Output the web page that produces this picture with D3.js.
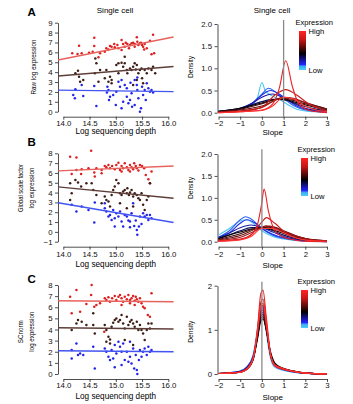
<!DOCTYPE html>
<html>
<head>
<meta charset="utf-8">
<script src="https://cdn.jsdelivr.net/npm/d3@7"></script>
<style>
  body { margin: 0; background: #fff; }
  svg { display: block; font-family: "Liberation Sans", Arial, sans-serif; }
</style>
</head>
<body>
<svg id="chart"></svg>
<script>
// three genes (high / mid / low expression) measured in single cells, three normalisations

const depthTicks = [14.0, 14.5, 15.0, 15.5, 16.0];
const slopeTicks = [-2, -1, 0, 1, 2, 3];
const fitDepths = [13.9, 16.1];

// Raw log expression: [log depth, log expression]
const rawHigh = [[14.59,7.48],[14.30,6.68],[14.59,6.64],[14.17,5.90],[14.27,5.83],[14.35,5.90],[14.49,5.97],[14.56,6.07],[14.70,5.90],[14.67,5.50],[14.79,6.07],[14.82,6.41],[14.86,6.30],[14.89,6.64],[14.97,6.84],[15.03,6.74],[15.05,6.41],[15.11,7.25],[15.14,6.84],[15.17,6.57],[15.19,6.98],[15.22,6.84],[15.27,6.74],[15.30,6.91],[15.33,6.98],[15.36,6.84],[15.40,7.52],[15.41,7.08],[15.43,6.74],[15.46,6.91],[15.48,6.98],[15.50,6.74],[15.52,6.57],[15.54,6.30],[15.55,6.84],[15.59,6.41],[15.65,7.18],[15.68,5.80],[15.71,7.79],[15.73,5.90],[15.11,6.24],[15.25,6.41],[15.36,6.57],[14.98,6.51],[14.92,6.57]];
const rawMid = [[14.23,3.88],[14.28,4.15],[14.32,3.04],[14.30,3.54],[14.38,3.20],[14.60,3.88],[14.63,4.89],[14.61,5.39],[14.67,3.04],[14.70,4.21],[14.82,4.21],[14.86,3.04],[14.89,3.54],[14.92,3.20],[14.79,3.37],[15.01,4.72],[15.05,4.89],[15.05,3.88],[15.11,4.96],[15.14,4.55],[15.17,5.56],[15.17,4.89],[15.21,4.21],[15.22,3.88],[15.27,4.38],[15.30,4.21],[15.33,4.55],[15.33,2.70],[15.36,4.89],[15.38,4.28],[15.40,4.72],[15.40,3.20],[15.43,3.88],[15.46,4.21],[15.49,4.38],[15.50,3.37],[15.52,2.87],[15.55,4.21],[15.59,3.88],[15.62,4.38],[15.68,4.21],[15.71,4.55],[15.75,3.88],[14.92,2.87]];
const rawLow = [[14.23,2.26],[14.35,2.70],[14.59,2.60],[14.19,1.69],[14.22,1.35],[14.38,1.59],[14.63,0.58],[14.84,2.53],[14.86,2.19],[14.89,1.52],[14.87,1.18],[14.95,1.69],[15.01,2.02],[15.05,3.04],[15.08,2.53],[15.11,3.20],[15.17,2.70],[15.21,2.36],[15.21,1.52],[15.24,0.85],[15.27,1.18],[15.30,1.86],[15.31,0.51],[15.36,3.20],[15.40,2.70],[15.41,2.19],[15.43,1.35],[15.46,0.00],[15.48,0.34],[15.50,2.53],[15.52,1.69],[15.55,2.19],[15.57,1.18],[15.59,2.87],[15.62,2.36],[15.65,2.02],[15.68,2.19],[15.71,1.93],[15.14,1.01],[15.00,0.68],[15.11,0.34],[15.36,0.68],[15.41,3.47],[15.28,2.94],[14.83,1.93]];
// fitted line values at fitDepths, order high / mid / low
const rawFits = [[5.23,7.55],[3.61,4.57],[2.18,2.03]];

// Global scale factor log expression
const scaleHigh = [[14.13,7.66],[14.25,7.56],[14.53,8.27],[14.16,5.90],[14.25,6.31],[14.34,5.90],[14.35,6.37],[14.48,6.48],[14.59,6.04],[14.63,6.48],[14.73,6.31],[14.79,6.71],[14.82,6.58],[14.86,6.81],[14.89,6.48],[14.93,6.71],[14.98,6.37],[15.01,6.81],[15.05,7.05],[15.08,6.31],[15.11,6.71],[15.14,6.48],[15.17,6.98],[15.21,6.58],[15.24,6.31],[15.27,6.81],[15.30,6.58],[15.33,6.37],[15.35,6.98],[15.38,6.71],[15.40,6.48],[15.43,6.24],[15.46,6.81],[15.50,6.71],[15.54,6.48],[15.57,5.80],[15.62,5.36],[15.65,4.95],[15.68,6.14],[15.11,6.14],[15.27,6.14],[14.73,5.97],[14.60,5.63]];
const scaleMid = [[14.13,4.95],[14.16,3.93],[14.23,5.29],[14.28,5.02],[14.34,4.61],[14.44,4.95],[14.54,4.95],[14.57,4.27],[14.63,3.76],[14.13,3.25],[14.73,2.92],[14.79,3.59],[14.82,3.25],[14.86,3.09],[14.89,2.58],[14.92,3.76],[14.95,4.27],[14.98,4.61],[15.01,5.29],[15.05,4.95],[15.08,3.93],[15.11,3.76],[15.14,4.10],[15.17,4.27],[15.21,3.93],[15.22,4.44],[15.25,3.76],[15.27,4.00],[15.30,4.27],[15.33,3.59],[15.36,3.93],[15.40,3.76],[15.43,3.42],[15.46,3.25],[15.49,3.93],[15.52,2.75],[15.55,2.24],[15.59,3.25],[15.62,3.59],[15.65,4.95],[15.08,2.92],[15.21,2.41],[15.33,2.58]];
const scaleLow = [[14.16,2.75],[14.25,2.07],[14.35,2.58],[14.48,2.24],[14.59,0.95],[14.79,2.41],[14.82,2.07],[14.86,1.56],[14.89,1.73],[14.92,1.22],[14.95,2.24],[14.98,1.39],[15.01,1.90],[15.05,1.56],[15.08,2.07],[15.11,1.05],[15.14,0.54],[15.17,1.73],[15.21,1.56],[15.24,1.15],[15.27,0.47],[15.30,1.90],[15.33,2.92],[15.35,0.61],[15.38,1.15],[15.40,0.20],[15.41,-0.30],[15.44,0.54],[15.46,1.56],[15.49,0.81],[15.52,1.90],[15.55,1.56],[15.59,1.73],[15.62,1.22],[15.65,1.73],[15.68,1.39],[14.79,2.92],[14.60,2.98],[14.98,0.54],[15.27,1.05]];
const scaleFits = [[6.21,6.71],[4.58,3.42],[2.97,0.95]];

// SCnorm log expression
const scnormHigh = [[14.13,6.95],[14.25,7.55],[14.54,8.00],[14.53,7.10],[14.16,5.45],[14.32,5.60],[14.44,6.29],[14.59,6.05],[14.63,6.20],[14.70,6.35],[14.79,6.80],[14.82,6.65],[14.86,6.89],[14.89,6.50],[14.93,6.80],[14.98,7.01],[15.01,6.65],[15.05,6.95],[15.08,7.10],[15.11,6.80],[15.14,6.50],[15.17,6.95],[15.21,6.71],[15.24,7.10],[15.27,6.65],[15.30,6.80],[15.33,7.01],[15.36,6.59],[15.38,6.95],[15.40,6.71],[15.43,6.50],[15.46,6.80],[15.49,6.35],[15.52,6.05],[15.55,5.90],[15.61,5.30],[15.65,5.15],[15.68,7.25],[15.36,6.20],[15.11,6.20],[15.27,6.35],[14.78,3.80]];
const scnormMid = [[14.16,3.95],[14.25,4.55],[14.28,4.85],[14.35,4.70],[14.44,4.40],[14.57,4.40],[14.60,3.65],[14.57,5.45],[14.79,4.40],[14.82,3.95],[14.86,3.35],[14.89,3.11],[14.92,4.25],[14.95,4.61],[14.98,4.85],[15.01,5.00],[15.05,4.70],[15.08,4.85],[15.11,5.30],[15.14,4.55],[15.17,4.10],[15.21,5.15],[15.24,4.40],[15.27,4.70],[15.30,4.85],[15.33,4.55],[15.36,4.25],[15.40,4.70],[15.43,3.95],[15.46,4.40],[15.49,3.95],[15.52,3.65],[15.55,3.05],[15.59,3.95],[15.62,4.55],[15.65,4.10],[15.68,4.55],[14.82,2.90],[14.89,2.75],[15.17,3.05],[15.33,2.60]];
const scnormLow = [[14.16,2.15],[14.25,2.75],[14.28,1.70],[14.32,1.85],[14.16,1.40],[14.38,1.70],[14.57,2.45],[14.60,0.50],[14.79,2.30],[14.82,2.00],[14.86,1.55],[14.89,1.25],[14.92,2.15],[14.95,1.40],[14.98,2.60],[15.01,1.85],[15.05,2.90],[15.08,2.45],[15.11,2.00],[15.14,2.75],[15.17,1.25],[15.21,2.00],[15.24,1.10],[15.27,1.55],[15.30,0.95],[15.33,2.30],[15.35,0.50],[15.38,1.70],[15.40,0.35],[15.41,0.00],[15.44,1.25],[15.46,2.15],[15.49,1.55],[15.52,2.00],[15.55,2.30],[15.59,1.70],[15.62,2.45],[15.65,2.00],[15.68,2.15],[15.11,0.80],[14.98,0.60],[15.27,2.90]];
const scnormFits = [[6.59,6.50],[4.16,4.04],[2.09,2.00]];

// slope density curves, low -> high expression: [slope, density]
const curveColors = ["#48c8f4", "#3060f4", "#2030e4", "#1c1ca8", "#10105a", "#000000",
                     "#3c0a0a", "#6a1010", "#9a1616", "#c81c1c", "#ee1f1f", "#ff3434"];

const rawCurves = [
  [[-2,0.03],[-1.5,0.06],[-1,0.1],[-0.5,0.17],[-0.2,0.35],[0,0.68],[0.15,0.5],[0.4,0.4],[0.8,0.3],[1.2,0.18],[1.6,0.08],[2,0.04],[2.5,0.02],[3,0.01]],
  [[-2,0.02],[-1,0.08],[-0.5,0.18],[0,0.42],[0.3,0.55],[0.6,0.48],[1,0.32],[1.5,0.15],[2,0.06],[2.5,0.03],[3,0.01]],
  [[-2,0.02],[-1,0.09],[-0.5,0.2],[0,0.4],[0.4,0.5],[0.8,0.42],[1.2,0.28],[1.6,0.15],[2,0.08],[3,0.02]],
  [[-2,0.03],[-1,0.1],[-0.5,0.2],[0,0.35],[0.5,0.42],[1,0.33],[1.5,0.2],[2,0.1],[2.5,0.05],[3,0.02]],
  [[-2,0.03],[-1,0.1],[0,0.25],[0.5,0.3],[1,0.3],[1.5,0.22],[2,0.14],[2.5,0.08],[3,0.04]],
  [[-2,0.03],[-1,0.1],[0,0.22],[0.7,0.3],[1.2,0.28],[1.8,0.2],[2.3,0.14],[3,0.07]],
  [[-2,0.02],[-1,0.08],[0,0.2],[0.8,0.31],[1.4,0.28],[2,0.2],[2.5,0.15],[3,0.08]],
  [[-2,0.02],[-1,0.06],[0,0.15],[1,0.33],[1.6,0.28],[2.2,0.2],[3,0.08]],
  [[-2,0.01],[-1,0.04],[0,0.12],[1,0.35],[1.5,0.32],[2,0.22],[2.5,0.12],[3,0.05]],
  [[-2,0.01],[-1,0.03],[0,0.12],[0.6,0.4],[1.1,0.52],[1.6,0.4],[2.1,0.22],[2.6,0.1],[3,0.04]],
  [[-2,0],[-1,0.02],[0,0.06],[0.5,0.2],[0.8,0.55],[1.1,1.17],[1.4,0.6],[1.7,0.2],[2.2,0.05],[3,0]],
  [[-2,0],[-1,0.02],[0,0.05],[0.5,0.15],[1,0.35],[1.5,0.3],[2,0.15],[2.5,0.06],[3,0.02]]
];

const scaleCurves = [
  [[-2,0.15],[-1.5,0.3],[-1,0.47],[-0.7,0.5],[-0.4,0.42],[0,0.25],[0.5,0.12],[1,0.06],[1.5,0.03],[2,0.01],[3,0]],
  [[-2,0.1],[-1.5,0.25],[-1,0.5],[-0.75,0.57],[-0.5,0.52],[0,0.3],[0.5,0.15],[1,0.08],[1.5,0.04],[2,0.02],[3,0]],
  [[-2,0.08],[-1.5,0.2],[-1,0.42],[-0.7,0.5],[-0.3,0.42],[0,0.3],[0.5,0.17],[1,0.09],[1.5,0.05],[2,0.02],[3,0.01]],
  [[-2,0.1],[-1.5,0.2],[-1,0.32],[-0.5,0.38],[0,0.32],[0.5,0.22],[1,0.12],[1.5,0.06],[2,0.03],[3,0.01]],
  [[-2,0.08],[-1.5,0.16],[-1,0.25],[-0.5,0.32],[0,0.32],[0.5,0.25],[1,0.15],[1.5,0.08],[2,0.04],[3,0.01]],
  [[-2,0.07],[-1,0.22],[-0.3,0.3],[0.2,0.3],[0.8,0.22],[1.4,0.12],[2,0.06],[3,0.01]],
  [[-2,0.05],[-1,0.18],[-0.3,0.3],[0.3,0.33],[1,0.22],[1.5,0.13],[2,0.07],[3,0.02]],
  [[-2,0.04],[-1,0.14],[-0.2,0.3],[0.4,0.35],[1,0.25],[1.6,0.13],[2.2,0.05],[3,0.01]],
  [[-2,0.03],[-1,0.1],[-0.3,0.25],[0.2,0.36],[0.8,0.28],[1.5,0.14],[2,0.07],[3,0.02]],
  [[-2,0.02],[-1,0.06],[-0.4,0.2],[0,0.45],[0.2,0.55],[0.6,0.42],[1.1,0.2],[1.6,0.08],[2.2,0.03],[3,0]],
  [[-2,0.01],[-1,0.05],[-0.5,0.15],[-0.2,0.4],[0,0.9],[0.1,1.2],[0.3,0.7],[0.6,0.25],[1,0.1],[1.5,0.04],[2,0.01],[3,0]],
  [[-2,0.01],[-1,0.04],[-0.5,0.12],[0,0.3],[0.5,0.3],[1,0.2],[1.5,0.1],[2,0.04],[3,0.01]]
];

const scnormCurves = [
  [[-2,0.01],[-1.5,0.02],[-1,0.06],[-0.7,0.15],[-0.4,0.45],[-0.2,1.05],[-0.05,1.6],[0.05,1.6],[0.2,0.95],[0.4,0.35],[0.6,0.15],[1,0.08],[1.5,0.04],[2,0.01],[3,0]],
  [[-2,0.01],[-1.5,0.03],[-1,0.07],[-0.7,0.16],[-0.4,0.42],[-0.2,0.95],[-0.05,1.45],[0.05,1.55],[0.2,1.05],[0.4,0.4],[0.6,0.18],[1,0.09],[1.5,0.04],[2,0.02],[3,0]],
  [[-2,0.01],[-1.5,0.03],[-1,0.06],[-0.7,0.14],[-0.4,0.4],[-0.2,0.9],[-0.05,1.4],[0.05,1.5],[0.2,1.1],[0.4,0.45],[0.6,0.2],[1,0.1],[1.5,0.05],[2,0.02],[3,0]],
  [[-2,0.01],[-1.5,0.02],[-1,0.05],[-0.7,0.14],[-0.4,0.38],[-0.2,0.85],[-0.05,1.3],[0.05,1.4],[0.2,1.05],[0.4,0.42],[0.6,0.2],[1,0.11],[1.5,0.05],[2,0.02],[3,0]],
  [[-2,0.01],[-1.5,0.02],[-1,0.05],[-0.7,0.12],[-0.4,0.35],[-0.2,0.85],[-0.05,1.25],[0.05,1.3],[0.2,1.0],[0.4,0.45],[0.6,0.22],[1,0.12],[1.5,0.06],[2,0.02],[3,0]],
  [[-2,0.01],[-1.5,0.02],[-1,0.05],[-0.7,0.12],[-0.4,0.35],[-0.2,0.8],[-0.05,1.2],[0.05,1.25],[0.2,1.0],[0.4,0.5],[0.6,0.25],[1,0.12],[1.5,0.06],[2,0.02],[3,0]],
  [[-2,0.01],[-1.5,0.02],[-1,0.04],[-0.7,0.1],[-0.4,0.32],[-0.2,0.85],[-0.05,1.3],[0.05,1.35],[0.2,1.02],[0.4,0.42],[0.6,0.2],[1,0.12],[1.5,0.06],[2,0.02],[3,0]],
  [[-2,0.01],[-1.5,0.02],[-1,0.04],[-0.7,0.11],[-0.4,0.34],[-0.2,0.9],[-0.05,1.38],[0.05,1.45],[0.2,1.05],[0.4,0.45],[0.6,0.22],[1,0.13],[1.5,0.06],[2,0.03],[3,0]],
  [[-2,0.01],[-1.5,0.02],[-1,0.05],[-0.7,0.12],[-0.4,0.36],[-0.2,0.95],[-0.05,1.48],[0.05,1.55],[0.2,1.1],[0.4,0.42],[0.6,0.2],[1,0.12],[1.5,0.06],[2,0.02],[3,0]],
  [[-2,0.01],[-1.5,0.02],[-1,0.05],[-0.7,0.12],[-0.4,0.38],[-0.2,1.0],[-0.05,1.62],[0.05,1.7],[0.2,1.2],[0.4,0.44],[0.6,0.2],[1,0.11],[1.5,0.05],[2,0.02],[3,0]],
  [[-2,0.01],[-1.5,0.02],[-1,0.04],[-0.7,0.1],[-0.4,0.35],[-0.2,1.05],[-0.05,1.82],[0.05,1.9],[0.2,1.3],[0.4,0.45],[0.6,0.18],[1,0.1],[1.5,0.05],[2,0.02],[3,0]],
  [[-2,0.01],[-1.5,0.02],[-1,0.04],[-0.7,0.11],[-0.4,0.36],[-0.2,0.98],[-0.05,1.52],[0.05,1.6],[0.2,1.15],[0.4,0.42],[0.6,0.2],[1,0.12],[1.5,0.06],[2,0.02],[3,0]]
];

const groupColors = ["#dc1f1f", "#3e1d17", "#2424e8"];
const fitColors = ["#e8625c", "#5e3e38", "#4254f2"];

const width = 353;
const height = 404;
const font = 7.8;

const svg = d3.select("#chart")
    .attr("width", width)
    .attr("height", height);

const depthX = d3.scaleLinear().domain([14, 16]).range([63.3, 168.3]);
const slopeX = d3.scaleLinear().domain([-2, 3]).range([218.5, 327]);

const rows = [
  { letter: "A", points: [rawHigh, rawMid, rawLow], fits: rawFits,
    yDomain: [0, 9], yRange: [111.7, 22.7], yTicks: d3.range(0, 10),
    ylab: [["Raw log expression", 55]], labelY: 67,
    curves: rawCurves, vline: 1, dRange: [112.7, 24], dTicks: [0, 0.5, 1, 1.5, 2], dFmt: d3.format(".1f"),
    axisY: 116.7, xlabOff: 17, tickPad: 1, title: true, letterY: 16, vTop: 20, bar: [31, 70], legendX: 299 },
  { letter: "B", points: [scaleHigh, scaleMid, scaleLow], fits: scaleFits,
    yDomain: [-1, 8], yRange: [241.7, 153.3], yTicks: d3.range(-1, 9),
    ylab: [["Global scale factor", 48], ["log expression", 41]], labelY: 188,
    curves: scaleCurves, vline: 0, dRange: [241.7, 154], dTicks: [0, 0.5, 1, 1.5, 2], dFmt: d3.format(".1f"),
    axisY: 246.7, xlabOff: 20, tickPad: 1.5, title: false, letterY: 146, vTop: 149.3, bar: [158, 196], legendX: 301 },
  { letter: "C", points: [scnormHigh, scnormMid, scnormLow], fits: scnormFits,
    yDomain: [0, 8], yRange: [374, 285], yTicks: d3.range(0, 9),
    ylab: [["SCnorm", 23], ["log expression", 40]], labelY: 331.7,
    curves: scnormCurves, vline: 0, dRange: [374, 285.7], dTicks: [0, 1, 2], dFmt: d3.format("d"),
    axisY: 379, xlabOff: 19.5, tickPad: 0, title: false, letterY: 283, vTop: 281.7, bar: [290, 328], legendX: 301 }
];

// colour bar gradient (top = high)
const defs = svg.append("defs");
const grad = defs.append("linearGradient")
    .attr("id", "exprGrad")
    .attr("x1", 0).attr("x2", 0).attr("y1", 0).attr("y2", 1);
[["0%", "#ff2424"], ["22%", "#c81616"], ["42%", "#5a0a0a"], ["58%", "#000000"], ["74%", "#14149a"], ["86%", "#2424ff"], ["90%", "#3aa8f4"], ["100%", "#4cd0fa"]]
  .forEach(s => grad.append("stop").attr("offset", s[0]).attr("stop-color", s[1]));

function styleAxis(g) {
    g.selectAll("path, line").attr("stroke", "#222").attr("stroke-width", 0.8);
    g.selectAll("text").attr("font-size", font).attr("fill", "#111").attr("font-family", "Liberation Sans, Arial, sans-serif");
}

function drawScatter(row) {
    const y = d3.scaleLinear().domain(row.yDomain).range(row.yRange);
    const g = svg.append("g");

    g.append("g")
        .attr("transform", "translate(58,0)")
        .call(d3.axisLeft(y).tickValues(row.yTicks).tickFormat(d3.format("d")).tickSize(3).tickSizeOuter(0).tickPadding(2.5))
        .call(styleAxis);

    g.append("g")
        .attr("transform", `translate(0,${row.axisY})`)
        .call(d3.axisBottom(depthX).tickValues(depthTicks).tickFormat(d3.format(".1f")).tickSize(3).tickSizeOuter(0).tickPadding(row.tickPad))
        .call(styleAxis);

    row.points.forEach((pts, i) => {
        g.append("g").selectAll("circle")
            .data(pts)
            .join("circle")
            .attr("cx", d => depthX(d[0]))
            .attr("cy", d => y(d[1]))
            .attr("r", 1.25)
            .attr("fill", groupColors[i]);
    });

    row.fits.forEach((f, i) => {
        g.append("line")
            .attr("x1", depthX(fitDepths[0])).attr("y1", y(f[0]))
            .attr("x2", depthX(fitDepths[1])).attr("y2", y(f[1]))
            .attr("stroke", fitColors[i])
            .attr("stroke-width", 1.4);
    });

    g.append("text")
        .attr("x", depthX(15)).attr("y", row.axisY + row.xlabOff)
        .attr("text-anchor", "middle").attr("font-size", 8.2)
        .text("Log sequencing depth");

    const nl = row.ylab.length;
    row.ylab.forEach((l, i) => {
        const bx = nl === 1 ? 35.5 : [23.2, 34.4][i];
        g.append("text")
            .attr("transform", `translate(${bx},${row.labelY}) rotate(-90)`)
            .attr("text-anchor", "middle").attr("font-size", 7.4)
            .attr("textLength", l[1]).attr("lengthAdjust", "spacingAndGlyphs")
            .text(l[0]);
    });

    g.append("text")
        .attr("x", 27.5).attr("y", row.letterY)
        .attr("font-size", 11.5).attr("font-weight", "bold")
        .text(row.letter);

    if (row.title) {
        g.append("text")
            .attr("x", 115).attr("y", 12.5)
            .attr("text-anchor", "middle").attr("font-size", 8)
            .text("Single cell");
    }
}

function drawDensity(row) {
    const y = d3.scaleLinear().domain([0, 2]).range(row.dRange);
    const g = svg.append("g");

    g.append("g")
        .attr("transform", "translate(217.5,0)")
        .call(d3.axisLeft(y).tickValues(row.dTicks).tickFormat(row.dFmt).tickSize(3).tickSizeOuter(0).tickPadding(2.5))
        .call(styleAxis);

    g.append("g")
        .attr("transform", `translate(0,${row.axisY})`)
        .call(d3.axisBottom(slopeX).tickValues(slopeTicks).tickFormat(d3.format("d")).tickSize(3).tickSizeOuter(0).tickPadding(row.tickPad))
        .call(styleAxis);

    const line = d3.line()
        .x(d => slopeX(d[0]))
        .y(d => y(d[1]))
        .curve(d3.curveMonotoneX);

    row.curves.forEach((c, i) => {
        g.append("path")
            .datum(c)
            .attr("fill", "none")
            .attr("stroke", curveColors[i])
            .attr("stroke-width", 1.1)
            .attr("d", line);
    });

    g.append("line")
        .attr("x1", slopeX(row.vline)).attr("x2", slopeX(row.vline))
        .attr("y1", row.vTop).attr("y2", row.axisY)
        .attr("stroke", "#8a8a8a").attr("stroke-width", 1.3);

    g.append("text")
        .attr("x", slopeX(0.5)).attr("y", row.axisY + row.xlabOff + 1)
        .attr("text-anchor", "middle").attr("font-size", 8)
        .text("Slope");

    g.append("text")
        .attr("transform", `translate(192.5,${row.labelY}) rotate(-90)`)
        .attr("text-anchor", "middle").attr("font-size", 7.4)
        .attr("textLength", 22).attr("lengthAdjust", "spacingAndGlyphs")
        .text("Density");

    // legend
    const lx = row.legendX;
    g.append("text")
        .attr("x", lx - 3.5).attr("y", row.bar[0] - 6)
        .attr("font-size", 7.6)
        .text("Expression");
    g.append("rect")
        .attr("x", lx).attr("y", row.bar[0])
        .attr("width", 7).attr("height", row.bar[1] - row.bar[0])
        .attr("fill", "url(#exprGrad)");
    g.append("text")
        .attr("x", lx + 9.5).attr("y", row.bar[0] + 3.2)
        .attr("font-size", 7.6).text("High");
    g.append("text")
        .attr("x", lx + 9.5).attr("y", row.bar[1] + 2.5)
        .attr("font-size", 7.6).text("Low");

    if (row.title) {
        g.append("text")
            .attr("x", 272).attr("y", 12.5)
            .attr("text-anchor", "middle").attr("font-size", 8)
            .text("Single cell");
    }
}

rows.forEach(row => {
    drawScatter(row);
    drawDensity(row);
});
</script>
</body>
</html>
